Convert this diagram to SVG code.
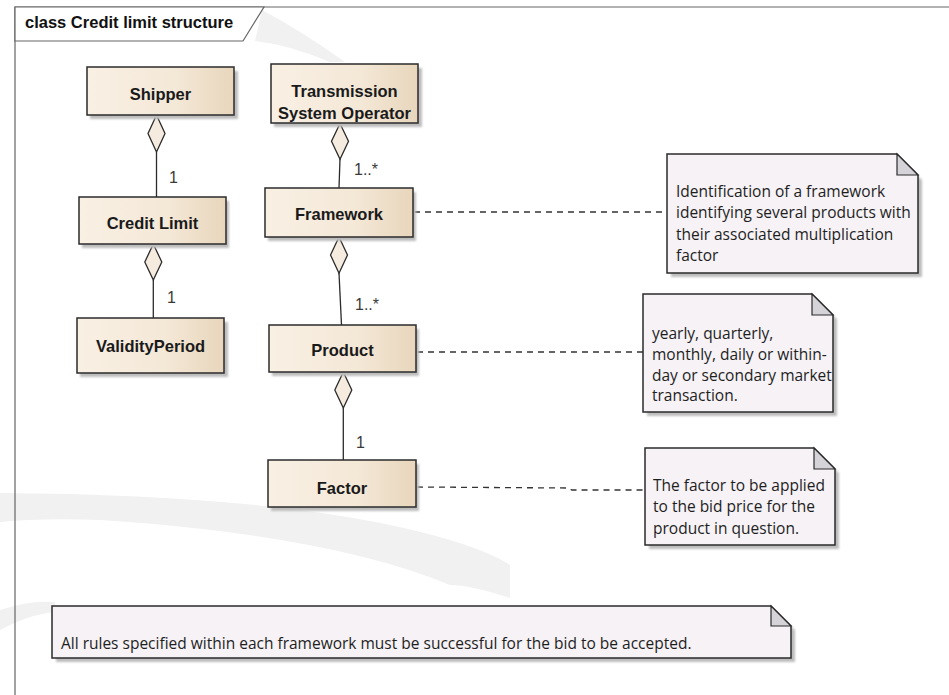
<svg xmlns="http://www.w3.org/2000/svg" width="949" height="695" viewBox="0 0 949 695">
<defs>
<linearGradient id="boxfill" x1="0" y1="0" x2="1" y2="0">
<stop offset="0" stop-color="#f9f0e4"/>
<stop offset="0.6" stop-color="#f4e8d7"/>
<stop offset="1" stop-color="#e8d6bc"/>
</linearGradient>
<filter id="sh" x="-10%" y="-10%" width="130%" height="140%">
<feGaussianBlur stdDeviation="1.2"/>
</filter>
</defs>
<style>
.box{fill:url(#boxfill);stroke:#2b2b2b;stroke-width:1.5}
.shadow{fill:#bdbdbd;filter:url(#sh)}
.note{fill:#f6f2f6;stroke:#2b2b2b;stroke-width:1.5}
.fold{fill:#d6d3d8;stroke:#2b2b2b;stroke-width:1.2}
.lbl{font-family:"Liberation Sans",Arial,sans-serif;font-size:16.5px;font-weight:bold;fill:#1a1a1a;text-anchor:middle}
.mult{font-family:"Liberation Sans",Arial,sans-serif;font-size:16px;fill:#3a3a3a}
.nt{font-family:"Open Sans","Liberation Sans",sans-serif;font-size:15.5px;fill:#1e1e1e}
.line{stroke:#2b2b2b;stroke-width:1.3;fill:none}
.dash{stroke:#333;stroke-width:1.3;fill:none;stroke-dasharray:6,5}
.dia{fill:#f5ecdf;stroke:#2b2b2b;stroke-width:1.3}
.wm{fill:#f1f1f1;stroke:none}
</style>
<rect width="949" height="695" fill="#ffffff"/>
<!-- watermark swooshes -->
<path class="wm" d="M0,493 Q300,495 450,540 Q490,552 510,565 L510,598 Q470,585 450,585 Q330,535 100,520 Q40,518 0,522 Z"/>
<path class="wm" d="M0,610 Q30,600 55,602 L55,612 Q30,614 0,630 Z"/>
<path class="wm" d="M262,10 Q300,30 345,62 L330,62 Q290,45 255,41 Z"/>
<!-- frame -->
<g id="frame">
<path d="M15,695 V7 H949" fill="none" stroke="#666" stroke-width="1.2"/>
<path d="M15,7 H264 L243,41 H15 Z" fill="#ffffff" stroke="#666" stroke-width="1.2"/>
<text x="25" y="28" font-family="'Liberation Sans',Arial,sans-serif" font-size="16.5px" font-weight="bold" fill="#111">class Credit limit structure</text>
</g>
<!-- connectors -->
<g id="connectors">
<line class="line" x1="156.5" y1="152" x2="156.5" y2="197"/>
<path class="dia" d="M156.5,115 L165,133.5 L156.5,152 L148,133.5 Z"/>
<text class="mult" x="169" y="183">1</text>
<line class="line" x1="153.3" y1="280" x2="153.3" y2="318"/>
<path class="dia" d="M153.3,244 L161.8,262 L153.3,280 L144.8,262 Z"/>
<text class="mult" x="167" y="303">1</text>
<line class="line" x1="340" y1="159" x2="339" y2="188"/>
<path class="dia" d="M340,123.5 L348.5,141.3 L340,159.3 L331.5,141.3 Z"/>
<text class="mult" x="354" y="175">1..*</text>
<line class="line" x1="339" y1="273" x2="341.5" y2="325"/>
<path class="dia" d="M339,237 L347.5,255 L339,273.3 L330.5,255 Z"/>
<text class="mult" x="355" y="310">1..*</text>
<line class="line" x1="343.3" y1="408" x2="343.3" y2="460"/>
<path class="dia" d="M343.3,372 L351.8,390 L343.3,408 L334.8,390 Z"/>
<text class="mult" x="356" y="448">1</text>
<line class="dash" x1="414" y1="212" x2="667" y2="212"/>
<line class="dash" x1="417" y1="352" x2="643" y2="352"/>
<polyline class="dash" points="417,487 568,488 572,490 645,490"/>
</g>
<!-- nodes -->
<g id="shipper">
<rect class="shadow" x="90" y="71" width="148" height="48"/>
<rect class="box" x="87" y="67" width="147" height="48"/>
<text class="lbl" x="160.5" y="100">Shipper</text>
</g>
<g id="creditlimit">
<rect class="shadow" x="82" y="201" width="147" height="47"/>
<rect class="box" x="79" y="197" width="147" height="47"/>
<text class="lbl" x="152.5" y="229">Credit Limit</text>
</g>
<g id="validityperiod">
<rect class="shadow" x="80" y="322" width="148" height="55"/>
<rect class="box" x="77" y="318" width="147" height="55"/>
<text class="lbl" x="150.5" y="352">ValidityPeriod</text>
</g>
<g id="tso">
<rect class="shadow" x="274" y="68" width="148" height="59"/>
<rect class="box" x="271" y="64" width="147" height="59"/>
<text class="lbl" x="344.5" y="97">Transmission</text>
<text class="lbl" x="344.5" y="119">System Operator</text>
</g>
<g id="framework">
<rect class="shadow" x="268" y="192" width="148" height="49"/>
<rect class="box" x="265" y="188" width="148" height="49"/>
<text class="lbl" x="339" y="220">Framework</text>
</g>
<g id="product">
<rect class="shadow" x="272" y="329" width="147" height="47"/>
<rect class="box" x="269" y="325" width="147" height="47"/>
<text class="lbl" x="342.5" y="356">Product</text>
</g>
<g id="factor">
<rect class="shadow" x="271" y="464" width="148" height="47"/>
<rect class="box" x="268" y="460" width="148" height="47"/>
<text class="lbl" x="342" y="494">Factor</text>
</g>
<!-- notes -->
<g id="note1">
<path class="shadow" d="M671,158 H899 L922,180 V277 H671 Z"/>
<path class="note" d="M667,154 H897 L918,175 V273 H667 Z"/>
<path class="fold" d="M897,154 V175 H918 Z"/>
<text class="nt" x="676" y="197">Identification of a framework</text>
<text class="nt" x="676" y="218">identifying  several products with</text>
<text class="nt" x="676" y="240">their associated  multiplication</text>
<text class="nt" x="676" y="261">factor</text>
</g>
<g id="note2">
<path class="shadow" d="M647,298 H816 L837,319 V416 H647 Z"/>
<path class="note" d="M643,294 H812 L833,315 V412 H643 Z"/>
<path class="fold" d="M812,294 V315 H833 Z"/>
<text class="nt" x="652" y="339">yearly, quarterly,</text>
<text class="nt" x="652" y="360">monthly, daily or within-</text>
<text class="nt" x="652" y="381">day or secondary  market</text>
<text class="nt" x="652" y="401">transaction.</text>
</g>
<g id="note3">
<path class="shadow" d="M649,452 H818 L839,473 V549 H649 Z"/>
<path class="note" d="M645,448 H814 L835,469 V545 H645 Z"/>
<path class="fold" d="M814,448 V469 H835 Z"/>
<text class="nt" x="653" y="491">The factor to be applied</text>
<text class="nt" x="653" y="512">to the bid price for the</text>
<text class="nt" x="653" y="534">product in question.</text>
</g>
<g id="note4">
<path class="shadow" d="M56,610 H775 L795,630 V662 H56 Z"/>
<path class="note" d="M52,606 H771 L791,626 V658 H52 Z"/>
<path class="fold" d="M771,606 V626 H791 Z"/>
<text class="nt" x="61" y="649">All rules specified within each framework must be successful for the bid to be accepted.</text>
</g>
</svg>
